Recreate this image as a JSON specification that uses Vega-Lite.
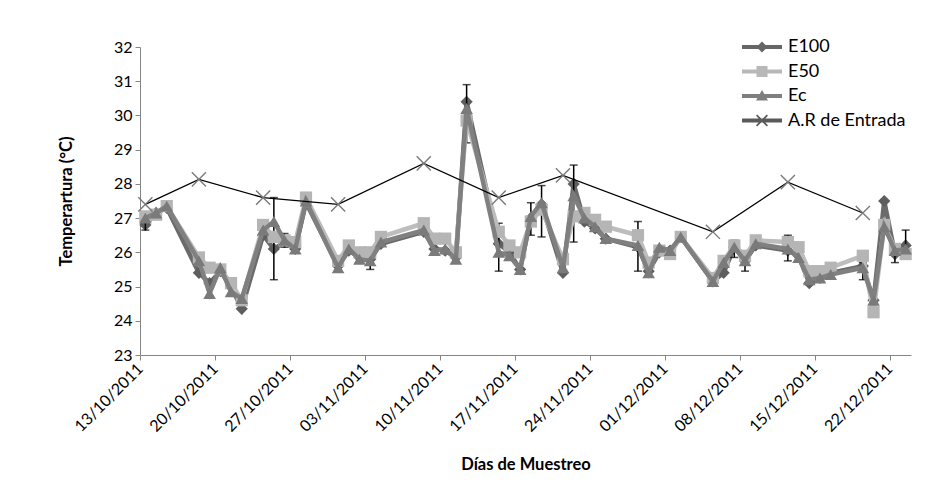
{
  "$schema": "https://vega.github.io/schema/vega-lite/v6.json",
  "width": 771,
  "height": 308,
  "autosize": {"type": "none"},
  "padding": {"left": 140, "top": 47, "right": 37, "bottom": 141},
  "background": "white",
  "config": {
    "font": "Lato",
    "view": {"stroke": null},
    "axis": {"grid": false, "domainColor": "#868686", "tickColor": "#868686", "tickSize": 5, "labelColor": "#000", "labelFont": "Lato", "labelFontSize": 16, "titleFont": "Lato", "titleFontSize": 16.5, "titleFontWeight": "bold", "titleColor": "#000"},
    "legend": {"labelFont": "Lato", "labelFontSize": 18, "labelColor": "#000"}
  },
  "datasets": {
    "temps": [
      {"date": "2011-10-13", "serie": "E100", "temp": 26.8}, {"date": "2011-10-13", "serie": "E50", "temp": 27.05}, {"date": "2011-10-13", "serie": "Ec", "temp": 27.0},
      {"date": "2011-10-14", "serie": "E100", "temp": 27.15}, {"date": "2011-10-14", "serie": "E50", "temp": 27.1}, {"date": "2011-10-14", "serie": "Ec", "temp": 27.15},
      {"date": "2011-10-15", "serie": "E100", "temp": 27.3}, {"date": "2011-10-15", "serie": "E50", "temp": 27.35}, {"date": "2011-10-15", "serie": "Ec", "temp": 27.35},
      {"date": "2011-10-18", "serie": "E100", "temp": 25.4}, {"date": "2011-10-18", "serie": "E50", "temp": 25.85}, {"date": "2011-10-18", "serie": "Ec", "temp": 25.75},
      {"date": "2011-10-19", "serie": "E100", "temp": 25.1}, {"date": "2011-10-19", "serie": "E50", "temp": 25.55}, {"date": "2011-10-19", "serie": "Ec", "temp": 24.8},
      {"date": "2011-10-20", "serie": "E100", "temp": 25.45}, {"date": "2011-10-20", "serie": "E50", "temp": 25.5}, {"date": "2011-10-20", "serie": "Ec", "temp": 25.55},
      {"date": "2011-10-21", "serie": "E100", "temp": 25.0}, {"date": "2011-10-21", "serie": "E50", "temp": 25.1}, {"date": "2011-10-21", "serie": "Ec", "temp": 24.85},
      {"date": "2011-10-22", "serie": "E100", "temp": 24.35}, {"date": "2011-10-22", "serie": "E50", "temp": 24.6}, {"date": "2011-10-22", "serie": "Ec", "temp": 24.65},
      {"date": "2011-10-24", "serie": "E100", "temp": 26.5}, {"date": "2011-10-24", "serie": "E50", "temp": 26.8}, {"date": "2011-10-24", "serie": "Ec", "temp": 26.65},
      {"date": "2011-10-25", "serie": "E100", "temp": 26.1}, {"date": "2011-10-25", "serie": "E50", "temp": 26.45}, {"date": "2011-10-25", "serie": "Ec", "temp": 26.9},
      {"date": "2011-10-26", "serie": "E100", "temp": 26.3}, {"date": "2011-10-26", "serie": "E50", "temp": 26.35}, {"date": "2011-10-26", "serie": "Ec", "temp": 26.35},
      {"date": "2011-10-27", "serie": "E100", "temp": 26.1}, {"date": "2011-10-27", "serie": "E50", "temp": 26.3}, {"date": "2011-10-27", "serie": "Ec", "temp": 26.1},
      {"date": "2011-10-28", "serie": "E100", "temp": 27.45}, {"date": "2011-10-28", "serie": "E50", "temp": 27.6}, {"date": "2011-10-28", "serie": "Ec", "temp": 27.5},
      {"date": "2011-10-31", "serie": "E100", "temp": 25.6}, {"date": "2011-10-31", "serie": "E50", "temp": 25.75}, {"date": "2011-10-31", "serie": "Ec", "temp": 25.55},
      {"date": "2011-11-01", "serie": "E100", "temp": 26.05}, {"date": "2011-11-01", "serie": "E50", "temp": 26.2}, {"date": "2011-11-01", "serie": "Ec", "temp": 26.1},
      {"date": "2011-11-02", "serie": "E100", "temp": 25.85}, {"date": "2011-11-02", "serie": "E50", "temp": 26.0}, {"date": "2011-11-02", "serie": "Ec", "temp": 25.8},
      {"date": "2011-11-03", "serie": "E100", "temp": 25.8}, {"date": "2011-11-03", "serie": "E50", "temp": 26.0}, {"date": "2011-11-03", "serie": "Ec", "temp": 25.75},
      {"date": "2011-11-04", "serie": "E100", "temp": 26.25}, {"date": "2011-11-04", "serie": "E50", "temp": 26.45}, {"date": "2011-11-04", "serie": "Ec", "temp": 26.3},
      {"date": "2011-11-08", "serie": "E100", "temp": 26.6}, {"date": "2011-11-08", "serie": "E50", "temp": 26.85}, {"date": "2011-11-08", "serie": "Ec", "temp": 26.65},
      {"date": "2011-11-09", "serie": "E100", "temp": 26.1}, {"date": "2011-11-09", "serie": "E50", "temp": 26.4}, {"date": "2011-11-09", "serie": "Ec", "temp": 26.05},
      {"date": "2011-11-10", "serie": "E100", "temp": 26.05}, {"date": "2011-11-10", "serie": "E50", "temp": 26.4}, {"date": "2011-11-10", "serie": "Ec", "temp": 26.1},
      {"date": "2011-11-11", "serie": "E100", "temp": 25.85}, {"date": "2011-11-11", "serie": "E50", "temp": 26.0}, {"date": "2011-11-11", "serie": "Ec", "temp": 25.8},
      {"date": "2011-11-12", "serie": "E100", "temp": 30.4}, {"date": "2011-11-12", "serie": "E50", "temp": 29.85}, {"date": "2011-11-12", "serie": "Ec", "temp": 30.2},
      {"date": "2011-11-15", "serie": "E100", "temp": 26.25}, {"date": "2011-11-15", "serie": "E50", "temp": 26.6}, {"date": "2011-11-15", "serie": "Ec", "temp": 26.0},
      {"date": "2011-11-16", "serie": "E100", "temp": 26.0}, {"date": "2011-11-16", "serie": "E50", "temp": 26.2}, {"date": "2011-11-16", "serie": "Ec", "temp": 25.9},
      {"date": "2011-11-17", "serie": "E100", "temp": 25.5}, {"date": "2011-11-17", "serie": "E50", "temp": 26.0}, {"date": "2011-11-17", "serie": "Ec", "temp": 25.5},
      {"date": "2011-11-18", "serie": "E100", "temp": 27.0}, {"date": "2011-11-18", "serie": "E50", "temp": 26.9}, {"date": "2011-11-18", "serie": "Ec", "temp": 27.05},
      {"date": "2011-11-19", "serie": "E100", "temp": 27.4}, {"date": "2011-11-19", "serie": "E50", "temp": 27.25}, {"date": "2011-11-19", "serie": "Ec", "temp": 27.45},
      {"date": "2011-11-21", "serie": "E100", "temp": 25.4}, {"date": "2011-11-21", "serie": "E50", "temp": 25.8}, {"date": "2011-11-21", "serie": "Ec", "temp": 25.55},
      {"date": "2011-11-22", "serie": "E100", "temp": 28.0}, {"date": "2011-11-22", "serie": "E50", "temp": 27.05}, {"date": "2011-11-22", "serie": "Ec", "temp": 27.65},
      {"date": "2011-11-23", "serie": "E100", "temp": 26.9}, {"date": "2011-11-23", "serie": "E50", "temp": 27.15}, {"date": "2011-11-23", "serie": "Ec", "temp": 27.0},
      {"date": "2011-11-24", "serie": "E100", "temp": 26.7}, {"date": "2011-11-24", "serie": "E50", "temp": 26.95}, {"date": "2011-11-24", "serie": "Ec", "temp": 26.75},
      {"date": "2011-11-25", "serie": "E100", "temp": 26.4}, {"date": "2011-11-25", "serie": "E50", "temp": 26.75}, {"date": "2011-11-25", "serie": "Ec", "temp": 26.4},
      {"date": "2011-11-28", "serie": "E100", "temp": 26.15}, {"date": "2011-11-28", "serie": "E50", "temp": 26.5}, {"date": "2011-11-28", "serie": "Ec", "temp": 26.2},
      {"date": "2011-11-29", "serie": "E100", "temp": 25.45}, {"date": "2011-11-29", "serie": "E50", "temp": 25.7}, {"date": "2011-11-29", "serie": "Ec", "temp": 25.4},
      {"date": "2011-11-30", "serie": "E100", "temp": 26.0}, {"date": "2011-11-30", "serie": "E50", "temp": 26.05}, {"date": "2011-11-30", "serie": "Ec", "temp": 26.15},
      {"date": "2011-12-01", "serie": "E100", "temp": 26.05}, {"date": "2011-12-01", "serie": "E50", "temp": 25.95}, {"date": "2011-12-01", "serie": "Ec", "temp": 26.05},
      {"date": "2011-12-02", "serie": "E100", "temp": 26.45}, {"date": "2011-12-02", "serie": "E50", "temp": 26.45}, {"date": "2011-12-02", "serie": "Ec", "temp": 26.45},
      {"date": "2011-12-05", "serie": "E100", "temp": 25.15}, {"date": "2011-12-05", "serie": "E50", "temp": 25.25}, {"date": "2011-12-05", "serie": "Ec", "temp": 25.15},
      {"date": "2011-12-06", "serie": "E100", "temp": 25.4}, {"date": "2011-12-06", "serie": "E50", "temp": 25.75}, {"date": "2011-12-06", "serie": "Ec", "temp": 25.7},
      {"date": "2011-12-07", "serie": "E100", "temp": 26.15}, {"date": "2011-12-07", "serie": "E50", "temp": 26.2}, {"date": "2011-12-07", "serie": "Ec", "temp": 26.15},
      {"date": "2011-12-08", "serie": "E100", "temp": 25.75}, {"date": "2011-12-08", "serie": "E50", "temp": 25.9}, {"date": "2011-12-08", "serie": "Ec", "temp": 25.75},
      {"date": "2011-12-09", "serie": "E100", "temp": 26.2}, {"date": "2011-12-09", "serie": "E50", "temp": 26.35}, {"date": "2011-12-09", "serie": "Ec", "temp": 26.25},
      {"date": "2011-12-12", "serie": "E100", "temp": 26.05}, {"date": "2011-12-12", "serie": "E50", "temp": 26.3}, {"date": "2011-12-12", "serie": "Ec", "temp": 26.1},
      {"date": "2011-12-13", "serie": "E100", "temp": 25.9}, {"date": "2011-12-13", "serie": "E50", "temp": 26.15}, {"date": "2011-12-13", "serie": "Ec", "temp": 25.85},
      {"date": "2011-12-14", "serie": "E100", "temp": 25.1}, {"date": "2011-12-14", "serie": "E50", "temp": 25.45}, {"date": "2011-12-14", "serie": "Ec", "temp": 25.2},
      {"date": "2011-12-15", "serie": "E100", "temp": 25.25}, {"date": "2011-12-15", "serie": "E50", "temp": 25.45}, {"date": "2011-12-15", "serie": "Ec", "temp": 25.25},
      {"date": "2011-12-16", "serie": "E100", "temp": 25.4}, {"date": "2011-12-16", "serie": "E50", "temp": 25.55}, {"date": "2011-12-16", "serie": "Ec", "temp": 25.35},
      {"date": "2011-12-19", "serie": "E100", "temp": 25.6}, {"date": "2011-12-19", "serie": "E50", "temp": 25.9}, {"date": "2011-12-19", "serie": "Ec", "temp": 25.55},
      {"date": "2011-12-20", "serie": "E100", "temp": 24.6}, {"date": "2011-12-20", "serie": "E50", "temp": 24.25}, {"date": "2011-12-20", "serie": "Ec", "temp": 24.6},
      {"date": "2011-12-21", "serie": "E100", "temp": 27.5}, {"date": "2011-12-21", "serie": "E50", "temp": 26.8}, {"date": "2011-12-21", "serie": "Ec", "temp": 26.75},
      {"date": "2011-12-22", "serie": "E100", "temp": 25.95}, {"date": "2011-12-22", "serie": "E50", "temp": 26.1}, {"date": "2011-12-22", "serie": "Ec", "temp": 26.05},
      {"date": "2011-12-23", "serie": "E100", "temp": 26.2}, {"date": "2011-12-23", "serie": "E50", "temp": 25.95}, {"date": "2011-12-23", "serie": "Ec", "temp": 26.1},
      {"date": "2011-10-13", "serie": "A.R de Entrada", "temp": 27.4},
      {"date": "2011-10-18", "serie": "A.R de Entrada", "temp": 28.13},
      {"date": "2011-10-24", "serie": "A.R de Entrada", "temp": 27.6},
      {"date": "2011-10-31", "serie": "A.R de Entrada", "temp": 27.4},
      {"date": "2011-11-08", "serie": "A.R de Entrada", "temp": 28.6},
      {"date": "2011-11-15", "serie": "A.R de Entrada", "temp": 27.6},
      {"date": "2011-11-21", "serie": "A.R de Entrada", "temp": 28.25},
      {"date": "2011-12-05", "serie": "A.R de Entrada", "temp": 26.6},
      {"date": "2011-12-12", "serie": "A.R de Entrada", "temp": 28.05},
      {"date": "2011-12-19", "serie": "A.R de Entrada", "temp": 27.15}
    ],
    "err": [
      {"date": "2011-10-13", "lo": 26.65, "hi": 26.95},
      {"date": "2011-10-25", "lo": 25.2, "hi": 27.6},
      {"date": "2011-10-26", "lo": 26.15, "hi": 26.55},
      {"date": "2011-11-03", "lo": 25.5, "hi": 26.1},
      {"date": "2011-11-12", "lo": 29.2, "hi": 30.9},
      {"date": "2011-11-15", "lo": 25.45, "hi": 26.85},
      {"date": "2011-11-18", "lo": 26.5, "hi": 27.45},
      {"date": "2011-11-19", "lo": 26.45, "hi": 27.95},
      {"date": "2011-11-22", "lo": 26.3, "hi": 28.55},
      {"date": "2011-11-28", "lo": 25.45, "hi": 26.9},
      {"date": "2011-12-07", "lo": 25.85, "hi": 26.35},
      {"date": "2011-12-08", "lo": 25.45, "hi": 25.95},
      {"date": "2011-12-12", "lo": 25.75, "hi": 26.5},
      {"date": "2011-12-19", "lo": 25.2, "hi": 25.7},
      {"date": "2011-12-22", "lo": 25.7, "hi": 26.15},
      {"date": "2011-12-23", "lo": 25.9, "hi": 26.65}
    ]
  },
  "data": {"name": "temps"},
  "encoding": {
    "x": {
      "field": "date", "type": "temporal", "timeUnit": "utcyearmonthdate", "bandPosition": 0.5,
      "scale": {"domain": [{"year": 2011, "month": 10, "date": 13, "utc": true}, {"year": 2011, "month": 12, "date": 24, "utc": true}]},
      "axis": {
        "title": "Días de Muestreo", "titlePadding": 22, "labelAngle": -45, "labelAlign": "right", "labelBaseline": "middle", "format": "%d/%m/%Y", "labelPadding": 6, "labelFontSize": 16, "labelOverlap": false, "labelBound": false,
        "values": [
          {"year": 2011, "month": 10, "date": 13, "utc": true}, {"year": 2011, "month": 10, "date": 20, "utc": true},
          {"year": 2011, "month": 10, "date": 27, "utc": true}, {"year": 2011, "month": 11, "date": 3, "utc": true},
          {"year": 2011, "month": 11, "date": 10, "utc": true}, {"year": 2011, "month": 11, "date": 17, "utc": true},
          {"year": 2011, "month": 11, "date": 24, "utc": true}, {"year": 2011, "month": 12, "date": 1, "utc": true},
          {"year": 2011, "month": 12, "date": 8, "utc": true}, {"year": 2011, "month": 12, "date": 15, "utc": true},
          {"year": 2011, "month": 12, "date": 22, "utc": true}
        ]
      }
    },
    "y": {
      "field": "temp", "type": "quantitative",
      "scale": {"domain": [23, 32], "nice": false, "zero": false},
      "axis": {"title": "Temperartura (°C)", "values": [23, 24, 25, 26, 27, 28, 29, 30, 31, 32], "labelPadding": 3, "titlePadding": 39}
    }
  },
  "layer": [
    {"transform": [{"filter": "datum.serie === 'E100'"}], "mark": {"type": "line", "color": "#6b6b6b", "strokeWidth": 4.5}},
    {"transform": [{"filter": "datum.serie === 'E100'"}], "mark": {"type": "point", "shape": "diamond", "filled": true, "color": "#5e5e5e", "opacity": 1, "size": 150}},
    {"data": {"name": "err"}, "mark": {"type": "rule", "color": "#000", "strokeWidth": 1.5},
     "encoding": {"y": {"field": "lo", "type": "quantitative"}, "y2": {"field": "hi"}}},
    {"data": {"name": "err"}, "mark": {"type": "tick", "orient": "horizontal", "color": "#000", "size": 8, "thickness": 1.5},
     "encoding": {"y": {"field": "lo", "type": "quantitative"}}},
    {"data": {"name": "err"}, "mark": {"type": "tick", "orient": "horizontal", "color": "#000", "size": 8, "thickness": 1.5},
     "encoding": {"y": {"field": "hi", "type": "quantitative"}}},
    {"transform": [{"filter": "datum.serie === 'E50'"}], "mark": {"type": "line", "color": "#bdbdbd", "strokeWidth": 4.5}},
    {"transform": [{"filter": "datum.serie === 'E50'"}], "mark": {"type": "point", "shape": "square", "filled": true, "color": "#b5b5b5", "opacity": 1, "size": 150}},
    {"transform": [{"filter": "datum.serie === 'Ec'"}], "mark": {"type": "line", "color": "#808080", "strokeWidth": 4.5}},
    {"transform": [{"filter": "datum.serie === 'Ec'"}], "mark": {"type": "point", "shape": "triangle-up", "filled": true, "color": "#7a7a7a", "opacity": 1, "size": 160}},
    {"transform": [{"filter": "datum.serie === 'A.R de Entrada'"}], "mark": {"type": "line", "color": "#000", "strokeWidth": 1.3}},
    {"transform": [{"filter": "datum.serie === 'A.R de Entrada'"}], "mark": {"type": "point", "shape": "M-1,-1L1,1M1,-1L-1,1", "filled": false, "color": "#7a7a7a", "strokeWidth": 1.4, "opacity": 1, "size": 200}},
    {
      "mark": {"type": "point", "filled": true, "opacity": 0},
      "encoding": {
        "color": {
          "field": "serie", "type": "nominal",
          "scale": {"domain": ["E100", "E50", "Ec", "A.R de Entrada"], "range": ["#666666", "#b8b8b8", "#7f7f7f", "#5a5a5a"]},
          "legend": {"title": null, "orient": "none", "legendX": 612, "legendY": -10, "symbolSize": 400, "symbolOpacity": 1, "symbolStrokeWidth": 0, "labelOffset": 16, "rowPadding": 5.5, "padding": 0}
        },
        "shape": {
          "field": "serie", "type": "nominal",
          "scale": {"domain": ["E100", "E50", "Ec", "A.R de Entrada"], "range": [
            "M-2,-0.2H2V0.2H-2Z M0,-0.55L0.55,0L0,0.55L-0.55,0Z",
            "M-2,-0.2H2V0.2H-2Z M-0.55,-0.55H0.55V0.55H-0.55Z",
            "M-2,-0.2H2V0.2H-2Z M0,-0.6L0.6,0.45H-0.6Z",
            "M-2,-0.2H2V0.2H-2Z M-0.48,-0.6L0.6,0.48L0.48,0.6L-0.6,-0.48Z M0.48,-0.6L0.6,-0.48L-0.48,0.6L-0.6,0.48Z"
          ]},
          "legend": {"title": null, "orient": "none", "legendX": 612, "legendY": -10, "symbolSize": 400, "symbolOpacity": 1, "symbolStrokeWidth": 0, "labelOffset": 16, "rowPadding": 5.5, "padding": 0}
        }
      }
    }
  ]
}
